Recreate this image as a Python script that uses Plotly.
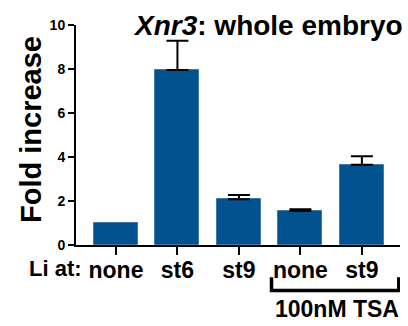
import plotly.graph_objects as go

# Li treatment stage for each group (last two also received 100nM TSA)
categories = ["none", "st6", "st9", "none ", "st9 "]
fold_increase = [1.0, 7.95, 2.08, 1.55, 3.65]
sem = [None, 1.33, 0.19, 0.07, 0.38]  # control is the normalisation reference, no error
y_ticks = [0, 2, 4, 6, 8, 10]

FONT = "Liberation Sans, Arial, Helvetica, sans-serif"
BLUE = "#02528f"

xs = list(range(len(categories)))

fig = go.Figure()
fig.add_trace(go.Bar(
    x=xs,
    y=fold_increase,
    width=0.715,
    marker=dict(color=BLUE, line=dict(color="#3f78aa", width=1)),
))

# Upper error bars only for the groups that have an SEM
err_idx = [i for i, s in enumerate(sem) if s is not None]
fig.add_trace(go.Scatter(
    x=[xs[i] for i in err_idx],
    y=[fold_increase[i] for i in err_idx],
    mode="markers",
    marker=dict(size=1, opacity=0),
    error_y=dict(type="data", array=[sem[i] for i in err_idx],
                 arrayminus=[0] * len(err_idx), symmetric=False,
                 color="black", thickness=2, width=11),
    hoverinfo="skip",
))

fig.update_layout(
    width=408, height=326,
    margin=dict(l=76, r=8, t=25, b=81),
    paper_bgcolor="white", plot_bgcolor="white",
    showlegend=False,
    font=dict(family=FONT, color="black"),
    bargap=0,
)

fig.update_xaxes(
    range=[-0.65, 4.62],
    tickmode="array",
    tickvals=xs,
    ticktext=[f"<b>{c.strip()}</b>" for c in categories],
    tickfont=dict(size=23, family=FONT),
    ticks="outside", ticklen=8, tickwidth=2, tickcolor="black",
    ticklabelstandoff=-5,
    showline=True, linewidth=2, linecolor="black",
    showgrid=False, zeroline=False,
)
fig.update_yaxes(
    range=[0, 10],
    tickmode="array",
    tickvals=y_ticks,
    ticktext=[f"<b>{v}</b>" for v in y_ticks],
    tickfont=dict(size=14, family=FONT),
    ticks="outside", ticklen=6, tickwidth=2, tickcolor="black",
    showline=True, linewidth=2, linecolor="black",
    showgrid=False, zeroline=False,
)

# Title
fig.add_annotation(
    text="<b><i>Xnr3</i>: whole embryo</b>",
    xref="paper", yref="paper", x=0.17, y=1.0, xanchor="left", yanchor="middle",
    showarrow=False, font=dict(size=28, family=FONT),
)
# Y-axis title
fig.add_annotation(
    text="<b>Fold increase</b>", textangle=-90,
    xref="paper", yref="paper", x=-0.139, y=0.527,
    xanchor="center", yanchor="middle",
    showarrow=False, font=dict(size=29, family=FONT),
)
# Row label for the x categories
fig.add_annotation(
    text="<b>Li at:</b>",
    xref="paper", yref="paper", x=-0.062, y=-0.109,
    xanchor="center", yanchor="middle",
    showarrow=False, font=dict(size=22, family=FONT),
)
# Bracket grouping the TSA-treated samples
bx0, bx1 = 2.53, 4.6
by_top, by_bot = -0.147, -0.207
fig.add_shape(
    type="path", xref="x", yref="paper",
    path=f"M {bx0},{by_top} L {bx0},{by_bot} L {bx1},{by_bot} L {bx1},{by_top}",
    line=dict(color="black", width=3.5),
)
fig.add_annotation(
    text="<b>100nM TSA</b>",
    xref="x", yref="paper", x=3.59, y=-0.29,
    xanchor="center", yanchor="middle",
    showarrow=False, font=dict(size=23, family=FONT),
)

fig.write_html("out.html")
